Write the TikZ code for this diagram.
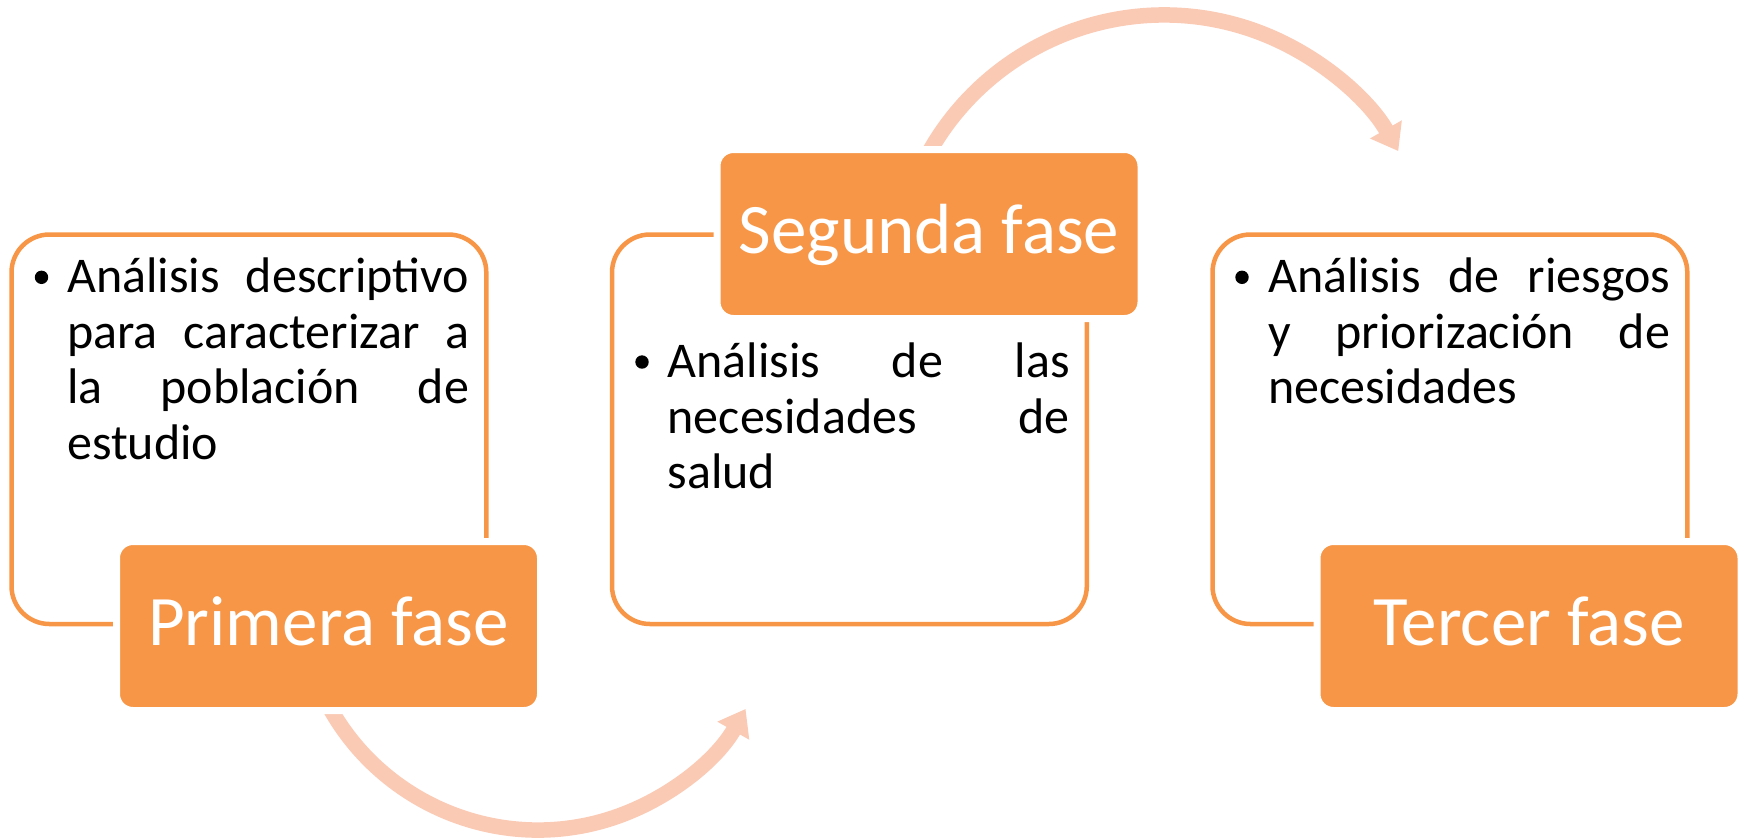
\documentclass[tikz,border=0pt]{standalone}
\usepackage{fontspec}
\setmainfont{Carlito}
\usetikzlibrary{arrows.meta,calc}
\definecolor{acc}{HTML}{F79646}
\definecolor{arrowc}{HTML}{FACAB4}
\newcommand{\jline}[1]{\makebox[402pt][s]{\spaceskip=0pt\xspaceskip=0pt\relax #1}}
\begin{document}
\begin{tikzpicture}[x=1pt,y=-1pt,
 outl/.style={draw=acc, line width=4.5pt, rounded corners=38pt, minimum width=474.8pt, minimum height=389.5pt, inner sep=0pt},
 phase/.style={fill=acc, draw=white, line width=7pt, rounded corners=16.5pt, minimum width=424pt, minimum height=169pt, inner sep=0pt},
 phlabel/.style={text=white, font=\fontsize{71}{82}\selectfont, anchor=base, inner sep=0pt},
 bodytext/.style={anchor=base west, inner sep=0pt, text width=402pt, align=left, font=\fontsize{50}{55.5}\selectfont},
 dot/.style={circle, fill=black, minimum size=13.4pt, inner sep=0pt},
 cyc/.style={draw=arrowc, line width=15.5pt, -{Triangle[length=25pt,width=35pt]}}
]
\useasboundingbox (0,0) rectangle (1744,839);
% cycle arrows
\coordinate (c1) at (538,591.5);
\coordinate (c2) at (1164,284.7);
\draw[cyc] ($(c1)+(160:238.5)$) arc[start angle=160, end angle=29.5, radius=238.5];
\draw[cyc] ($(c2)+(-156:269.7)$) arc[start angle=-156, end angle=-29.7, radius=269.7];
% outline boxes
\node[outl] (o1) at (248.9,429.25) {};
\node[outl] (o2) at (849.4,429.25) {};
\node[outl] (o3) at (1449.9,429.25) {};
% phase boxes
\node[phase] (p1) at (328.5,626) {};
\node[phase] (p2) at (929,234) {};
\node[phase] (p3) at (1529,626) {};
\node[phlabel] (l1) at ($(p1.center)+(0,19.5)$) {Primera fase};
\node[phlabel] (l2) at ($(p2.center)+(0,19.5)$) {Segunda fase};
\node[phlabel] (l3) at ($(p3.center)+(0,19.5)$) {Tercer fase};
% bullets
\node[dot] (b1) at (41.5,277.3) {};
\node[dot] (b2) at (642,362) {};
\node[dot] (b3) at (1242,277.3) {};
% texts
\node[bodytext] (t1) at (67,292.5) {\jline{Análisis descriptivo}\\\jline{para caracterizar a}\\\jline{la población de}\\estudio};
\node[bodytext] (t2) at (667.5,377.5) {\jline{Análisis de las}\\\jline{necesidades de}\\salud};
\node[bodytext] (t3) at (1268,292.5) {\jline{Análisis de riesgos}\\\jline{y priorización de}\\necesidades};
\end{tikzpicture}
\end{document}
